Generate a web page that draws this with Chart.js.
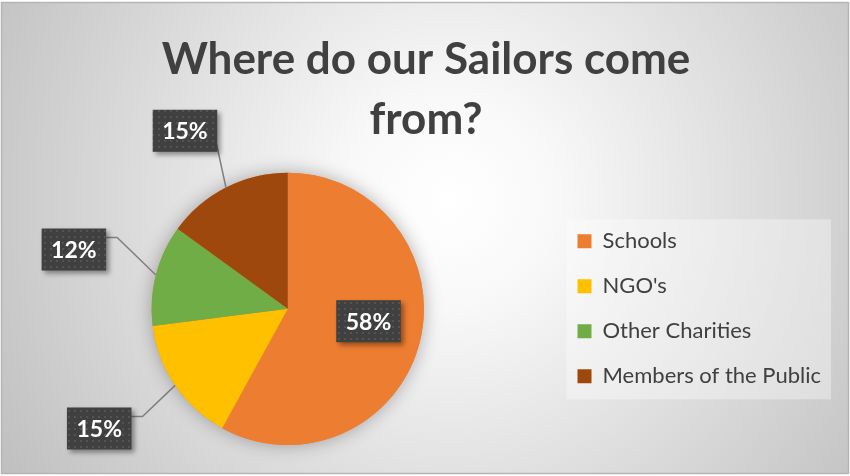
<!DOCTYPE html>
<html>
<head>
<meta charset="utf-8">
<script src="https://cdn.jsdelivr.net/npm/chart.js@4.4.1/dist/chart.umd.min.js"></script>
<style>
  html, body { margin: 0; padding: 0; background: #fff; }
  #wrap { width: 850px; height: 476px; position: relative; }
</style>
</head>
<body>
<div id="wrap"><canvas id="sailorsChart"></canvas></div>
<script>
/* -------------------------------------------------------
   DATA
------------------------------------------------------- */
const categories = ["Schools", "NGO's", "Other Charities", "Members of the Public"];
const shares = [58, 15, 12, 15];
const sliceColors = ["#ED7D31", "#FFC000", "#70AD47", "#9E480E"];
const titleLines = ["Where do our Sailors come", "from?"];

// where each % box sits: distance in radii, turn (deg) off the slice middle
const labelSpots = [
  { dist: 0.6, turn: -5.7 },
  { dist: 1.64, turn: 1.8, elbow: true },
  { dist: 1.63, turn: 1.1, elbow: true },
  { dist: 1.51, turn: -3 }
];

const FONT = "Lato";
const TEXT = "#404040";

/* -------------------------------------------------------
   little helpers
------------------------------------------------------- */
function dotPattern(ctx) {
  const c = document.createElement("canvas");
  c.width = 6; c.height = 6;
  const p = c.getContext("2d");
  p.fillStyle = "#404040";
  p.fillRect(0, 0, 6, 6);
  p.fillStyle = "#535353";
  p.fillRect(2, 2, 2, 2);
  return ctx.createPattern(c, "repeat");
}

// gradient frame + legend panel
const backdrop = {
  id: "backdrop",
  beforeDraw(chart) {
    const { ctx, width, height } = chart;
    ctx.save();
    ctx.fillStyle = "#fff";
    ctx.fillRect(0, 0, width, height);

    const g = ctx.createRadialGradient(450, 200, 0, 450, 200, 540);
    g.addColorStop(0, "#ffffff");
    g.addColorStop(0.2, "#f8f8f8");
    g.addColorStop(1, "#bdbdbd");
    ctx.fillStyle = g;
    ctx.fillRect(2, 3, width - 4, height - 6);
    ctx.strokeStyle = "#b5b5b5";
    ctx.lineWidth = 1.5;
    ctx.strokeRect(1.5, 2.5, width - 3, height - 5);

    // soft panel behind the legend
    const boxes = chart.legend.legendHitBoxes;
    if (boxes && boxes.length) {
      const first = boxes[0], last = boxes[boxes.length - 1];
      const top = first.top + first.height / 2 - 22;
      const bottom = last.top + last.height / 2 + 23;
      const left = first.left - 11;
      const right = Math.max(...boxes.map(b => b.left + b.width)) + 10;
      ctx.fillStyle = "rgba(255,255,255,0.35)";
      ctx.fillRect(left, top, right - left, bottom - top);
    }
    ctx.restore();
  }
};

// soft shadow under the whole pie
const pieShadow = {
  id: "pieShadow",
  beforeDatasetsDraw(chart) {
    const arc = chart.getDatasetMeta(0).data[0];
    if (!arc) return;
    const { ctx } = chart;
    ctx.save();
    ctx.shadowColor = "rgba(0,0,0,0.3)";
    ctx.shadowBlur = 18;
    ctx.fillStyle = "#ED7D31";
    ctx.beginPath();
    ctx.arc(arc.x, arc.y, arc.outerRadius, 0, Math.PI * 2);
    ctx.fill();
    ctx.restore();
  }
};

// dark % boxes with leader lines
const pctLabels = {
  id: "pctLabels",
  afterDatasetsDraw(chart) {
    const { ctx } = chart;
    const meta = chart.getDatasetMeta(0);
    const total = shares.reduce((a, b) => a + b, 0);
    const fill = dotPattern(ctx);

    meta.data.forEach((arc, i) => {
      const spot = labelSpots[i];
      const mid = (arc.startAngle + arc.endAngle) / 2;
      const ang = mid + spot.turn * Math.PI / 180;
      const R = arc.outerRadius;
      const cx = arc.x + Math.cos(ang) * R * spot.dist;
      const cy = arc.y + Math.sin(ang) * R * spot.dist;
      const text = Math.round(shares[i] / total * 100) + "%";

      ctx.save();
      ctx.font = "bold 23px " + FONT;
      const w = ctx.measureText(text).width + 19;
      const h = 42;
      const bx = cx - w / 2, by = cy - h / 2;

      // leader line for the outside ones
      if (spot.dist > 1) {
        const ex = arc.x + Math.cos(mid) * R;
        const ey = arc.y + Math.sin(mid) * R;
        ctx.strokeStyle = "#7f7f7f";
        ctx.lineWidth = 1.5;
        ctx.beginPath();
        if (spot.elbow) {
          ctx.moveTo(bx + w, cy - 12);
          ctx.lineTo(bx + w + 11, cy - 12);
        } else {
          ctx.moveTo(bx + w - 2, cy + 7);
        }
        ctx.lineTo(ex, ey);
        ctx.stroke();
      }

      ctx.shadowColor = "rgba(0,0,0,0.4)";
      ctx.shadowBlur = 5;
      ctx.shadowOffsetX = 3;
      ctx.shadowOffsetY = 3;
      ctx.fillStyle = fill;
      ctx.fillRect(bx, by, w, h);
      ctx.shadowColor = "transparent";

      ctx.fillStyle = "#ffffff";
      ctx.textAlign = "center";
      ctx.textBaseline = "middle";
      ctx.fillText(text, cx, cy + 1);
      ctx.restore();
    });
  }
};

/* -------------------------------------------------------
   PIE
------------------------------------------------------- */
const ctx = document.getElementById("sailorsChart").getContext("2d");

new Chart(ctx, {
  type: "pie",
  data: {
    labels: categories,
    datasets: [
      {
        data: shares,
        backgroundColor: sliceColors,
        borderWidth: 0
      }
    ]
  },

  options: {
    responsive: true,
    maintainAspectRatio: false,
    animation: false,
    layout: {
      padding: { left: 21, right: 19, top: 0, bottom: 31 }
    },

    plugins: {
      title: {
        display: true,
        text: titleLines,
        color: TEXT,
        font: { family: FONT, size: 44, weight: "bold", lineHeight: 1.36 },
        padding: { top: 30, bottom: 23 }
      },
      legend: {
        position: "right",
        fullSize: false,
        labels: {
          boxWidth: 14,
          boxHeight: 14,
          padding: 23,
          color: TEXT,
          font: { family: FONT, size: 22 }
        }
      },
      tooltip: { enabled: false }
    }
  },

  plugins: [backdrop, pieShadow, pctLabels]
});
</script>
</body>
</html>
